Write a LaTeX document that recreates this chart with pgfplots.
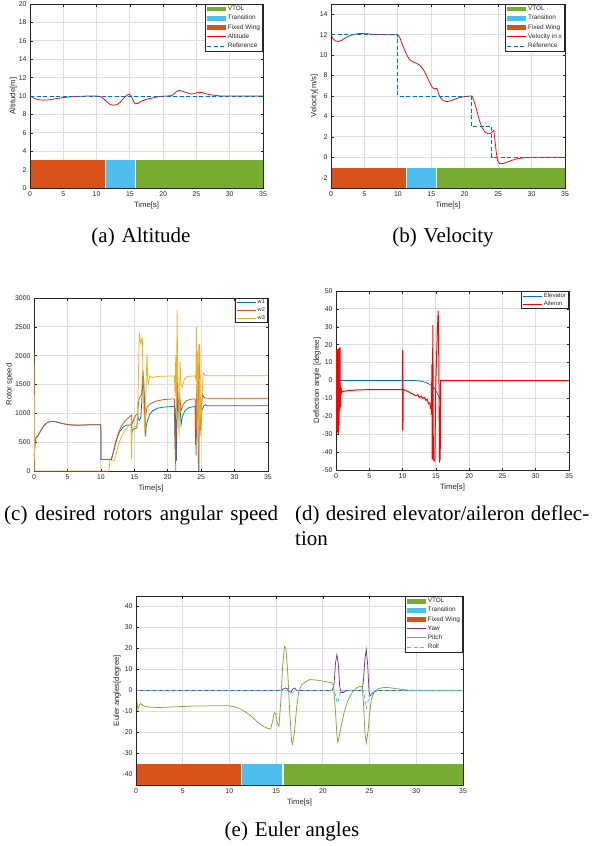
\documentclass[border=0pt]{standalone}
\usepackage{fontspec}
\setmainfont{Liberation Serif}
\newfontfamily\arial{Liberation Sans}
\usepackage{pgfplots}
\pgfplotsset{compat=1.18}

\definecolor{mblue}{HTML}{0072BD}
\definecolor{morange}{HTML}{D95319}
\definecolor{myellow}{HTML}{EDB120}
\definecolor{mpurple}{HTML}{7E2F8E}
\definecolor{mgreen}{HTML}{77AC30}
\definecolor{mcyan}{HTML}{4DBEEE}
\definecolor{axgray}{HTML}{262626}

\pgfplotsset{
  lineleg/.style={legend image code/.code={\draw[##1] (0pt,0pt) -- (19pt,0pt);}},
  barleg/.style={legend image code/.code={\fill[##1] (0pt,-2.4pt) rectangle (19pt,2.4pt);}},
  mat/.style={
    scale only axis, anchor=south west,
    xmin=0, xmax=35, xtick={0,5,...,35},
    grid=major, grid style={black!13, line width=0.9pt},
    axis line style={axgray, line width=0.6pt},
    tick style={axgray, line width=0.5pt}, major tick length=2.5pt,
    tick label style={font=\arial\fontsize{6.9}{8}\selectfont, text=axgray},
    label style={font=\arial\fontsize{7.7}{9}\selectfont, text=axgray},
    xlabel={Time[s]}, xlabel style={yshift=1.5pt},
    ylabel style={yshift=-5pt},
    /pgf/number format/assume math mode=true,
    /pgf/number format/1000 sep={},
    scaled ticks=false,
    legend cell align=left,
    legend style={at={(1,1)}, anchor=north east, draw=axgray, line width=0.6pt,
      fill=white, font=\arial\fontsize{6.4}{7.2}\selectfont, text=axgray,
      inner xsep=1.5pt, inner ysep=1pt, row sep=1.5pt,
      nodes={inner ysep=0.8pt, inner xsep=1.3pt}},
  },
  pline/.style={line width=0.75pt, lineleg},
}

\begin{document}
\begin{tikzpicture}
\path[use as bounding box] (0pt,0pt) rectangle (597pt,-846pt);

% (a) Altitude
\begin{axis}[mat, at={(30pt,-188pt)}, width=233pt, height=184pt,
  ymin=0, ymax=20, ytick={0,2,...,20}, ylabel={Altitude[m]}]
  \addplot[fill=mgreen, draw=none, barleg] coordinates {(15.85,0)(15.85,3)(35,3)(35,0)} -- cycle;
  \addlegendentry{VTOL}
  \addplot[fill=mcyan, draw=none, barleg] coordinates {(11.4,0)(11.4,3)(15.7,3)(15.7,0)} -- cycle;
  \addlegendentry{Transition}
  \addplot[fill=morange, draw=none, barleg] coordinates {(0,0)(0,3)(11.25,3)(11.25,0)} -- cycle;
  \addlegendentry{Fixed Wing}
  \addplot[pline, color=red, smooth, tension=0.4] coordinates {
    (0,10.0)(0.5,9.8)(1,9.65)(1.5,9.58)(2,9.55)(2.5,9.56)(3,9.6)(4,9.72)(5,9.83)(6,9.9)
    (7,9.95)(8,9.98)(9,10.0)(10,10.0)(10.5,9.95)(11,9.75)(11.5,9.4)(12,9.1)(12.5,9.0)
    (13,9.05)(13.5,9.3)(14,9.7)(14.5,10.05)(14.9,10.2)(15.2,10.0)(15.5,9.5)(15.8,9.15)
    (16.2,9.2)(16.8,9.45)(17.5,9.65)(18.5,9.8)(19.5,9.95)(20.5,10.0)(21.3,10.05)(21.6,10.2)
    (22,10.5)(22.4,10.6)(23,10.5)(23.6,10.35)(24.3,10.2)(24.8,10.3)(25.3,10.4)(25.8,10.38)
    (26.4,10.25)(27,10.15)(28,10.05)(29,10.0)(35,10.0)};
  \addlegendentry{Altitude}
  \addplot[pline, color=mblue, dash pattern=on 4pt off 2.5pt] coordinates {(0,10)(35,10)};
  \addlegendentry{Reference}
  \draw[axgray, line width=0.6pt] (rel axis cs:0,0) rectangle (rel axis cs:1,1);
\end{axis}

% (b) Velocity
\begin{axis}[mat, at={(331pt,-188pt)}, width=234pt, height=184pt,
  ymin=-3, ymax=15, ytick={-2,0,...,14}, ylabel={Velocity[m/s]}]
  \addplot[fill=mgreen, draw=none, barleg] coordinates {(15.85,-3)(15.85,-1)(35,-1)(35,-3)} -- cycle;
  \addlegendentry{VTOL}
  \addplot[fill=mcyan, draw=none, barleg] coordinates {(11.4,-3)(11.4,-1)(15.65,-1)(15.65,-3)} -- cycle;
  \addlegendentry{Transition}
  \addplot[fill=morange, draw=none, barleg] coordinates {(0,-3)(0,-1)(11.25,-1)(11.25,-3)} -- cycle;
  \addlegendentry{Fixed Wing}
  \addplot[pline, color=red] coordinates {
    (0,12)(0.3,11.6)(0.7,11.38)(1.1,11.33)(1.6,11.45)(2.3,11.75)(3,11.95)(3.8,12.08)
    (4.5,12.12)(5.5,12.08)(6.5,12.02)(8,12)(10,12)(10.3,11.7)(10.7,11.0)(11.2,10.2)
    (11.7,9.6)(12.2,9.35)(12.8,9.2)(13.3,9.0)(13.8,8.6)(14.3,8.0)(14.7,7.4)(15.1,6.9)
    (15.4,6.7)(15.7,6.75)(15.9,6.7)(16.1,6.2)(16.4,5.8)(16.8,5.55)(17.3,5.45)(18,5.55)
    (19,5.8)(20,5.95)(20.8,6.0)(21.1,6.0)(21.4,5.5)(21.8,4.6)(22.2,3.6)(22.6,2.9)(23,2.5)
    (23.5,2.3)(23.9,2.35)(24.2,2.55)(24.35,2.65)(24.5,1.8)(24.7,0.6)(24.9,-0.3)(25.2,-0.6)
    (25.6,-0.62)(26.2,-0.5)(27,-0.3)(28,-0.12)(29,-0.03)(30,0)(35,0)};
  \addlegendentry{Velocity in x}
  \addplot[pline, color=mblue, dash pattern=on 4pt off 2.5pt] coordinates {
    (0,12)(10,12)(10,6)(21,6)(21,3)(24.05,3)(24.05,0)(35,0)};
  \addlegendentry{Reference}
  \draw[axgray, line width=0.6pt] (rel axis cs:0,0) rectangle (rel axis cs:1,1);
\end{axis}

% (c) Rotor speed
\begin{axis}[mat, at={(34pt,-471pt)}, width=234pt, height=173pt,
  ymin=0, ymax=3000, ytick={0,500,...,3000}, ylabel={Rotor speed},
  legend style={font=\arial\fontsize{5.6}{6.4}\selectfont, row sep=0.6pt}]
  \addplot[pline, color=mblue] coordinates {
    (0,200)(0.15,450)(0.3,580)(0.6,610)(1,700)(1.5,790)(2,840)(2.5,860)(3,858)(3.5,845)
    (4,828)(5,805)(6,795)(7,795)(8,800)(10,800)(10.02,200)(11.6,200)(12,380)(12.4,560)
    (12.8,680)(13.3,760)(13.8,795)(14.4,800)(14.6,790)(14.62,650)(14.7,700)(15.0,730)
    (15.4,750)(15.5,1000)(15.6,900)(15.8,880)(16.0,950)(16.3,1600)(16.5,1300)(16.7,600)
    (16.8,800)(17.0,880)(17.3,980)(17.8,1050)(18.5,1090)(19.5,1110)(21,1120)(21.1,380)
    (21.2,1100)(21.3,180)(21.45,1400)(21.6,900)(21.8,1200)(22.0,800)(22.2,950)(22.6,1050)
    (23.2,1100)(24.1,1120)(24.15,450)(24.3,1200)(24.45,1500)(24.6,0)(24.75,900)(24.9,700)
    (25.1,1050)(25.4,1130)(25.6,1150)(25.9,1130)(35,1130)};
  \addlegendentry{w1}
  \addplot[pline, color=morange] coordinates {
    (0,250)(0.15,480)(0.3,590)(0.6,610)(1,700)(1.5,790)(2,840)(2.5,862)(3,860)(3.5,848)
    (4,830)(5,808)(6,797)(7,797)(8,800)(10,800)(10.02,200)(11.5,200)(11.8,300)(12.2,500)
    (12.6,650)(13,760)(13.5,850)(14,910)(14.5,960)(14.6,970)(14.62,800)(14.8,850)(15.0,920)
    (15.3,980)(15.5,1000)(15.7,1250)(15.9,1300)(16.1,1330)(16.3,1750)(16.45,1500)(16.6,700)
    (16.75,1000)(16.9,1100)(17.2,1150)(17.8,1190)(18.5,1220)(19.5,1240)(21,1250)(21.1,700)
    (21.2,0)(21.3,1200)(21.45,1600)(21.6,1100)(21.8,1300)(22.0,1050)(22.3,1150)(22.8,1220)
    (23.5,1245)(24.1,1250)(24.15,900)(24.25,270)(24.4,1500)(24.55,900)(24.7,2200)(24.85,700)
    (25.0,1000)(25.2,1330)(25.4,1280)(25.7,1265)(26,1260)(35,1260)};
  \addlegendentry{w2}
  \addplot[pline, color=myellow] coordinates {
    (0,2050)(0.05,1500)(0.1,0)(11.2,0)(11.35,180)(12.0,180)(12.3,300)(12.7,480)(13.2,620)
    (13.7,720)(14.2,790)(14.5,820)(14.6,200)(14.65,700)(14.8,760)(15.0,770)(15.4,780)
    (15.5,1000)(15.75,2400)(15.9,2250)(16.0,2200)(16.1,2300)(16.2,2300)(16.35,1300)(16.5,900)
    (16.6,600)(16.75,1400)(16.9,2050)(17.0,1600)(17.1,1500)(17.3,1650)(17.6,1620)(18.5,1640)
    (21,1650)(21.1,1300)(21.2,2000)(21.3,900)(21.4,2800)(21.55,1200)(21.7,600)(21.85,1900)
    (22.0,1500)(22.2,1450)(22.5,1600)(23,1640)(24.1,1650)(24.2,1600)(24.3,2500)(24.4,700)
    (24.5,2100)(24.6,900)(24.7,0)(24.8,2200)(24.95,600)(25.1,1200)(25.3,1700)(25.6,1660)
    (26,1650)(35,1650)};
  \addlegendentry{w3}
\end{axis}

% (d) Deflection
\begin{axis}[mat, at={(336pt,-470pt)}, width=233pt, height=179pt,
  ymin=-50, ymax=50, ytick={-50,-40,...,50}, ylabel={Deflection angle [degree]},
  legend style={font=\arial\fontsize{6}{6.8}\selectfont, row sep=0.6pt}]
  \addplot[pline, color=mblue] coordinates {
    (0,0)(11.5,0)(12,-0.1)(12.5,-0.3)(13,-0.6)(13.5,-1.1)(14,-2)(14.4,-3)(14.8,-4.5)
    (15.1,-6.3)(15.4,-8.5)(15.6,-10.5)(15.65,-11)(15.7,0)(35,0)};
  \addlegendentry{Elevator}
  \addplot[line width=1pt, lineleg, color=red] coordinates {
    (0,0)(0.05,-28)(0.1,17)(0.15,-27)(0.2,17)(0.25,-29)(0.3,17.5)(0.35,-30)(0.4,18)
    (0.45,-25)(0.5,18)(0.55,-17)(0.6,18.5)(0.65,-15)(0.7,-3)(0.75,-8)(0.8,-5)(0.9,-6.5)
    (1.2,-6)(2,-5.6)(3,-5.3)(5,-5.1)(8,-5.1)(9.95,-5.1)(10.0,17)(10.02,-28)(10.04,16)
    (10.06,-27)(10.08,-5)(10.5,-5.5)(11,-6.5)(11.5,-7.5)(12,-8.5)(12.3,-8)(12.5,-9.5)
    (12.8,-8.8)(13,-10)(13.3,-9.5)(13.5,-11)(13.7,-10.5)(13.9,-13)(14.1,-12.5)(14.2,-15)
    (14.3,-14)(14.35,-19)(14.4,9)(14.45,-44)(14.55,31)(14.62,-44)(14.75,-45)(14.85,-44)
    (15.0,0)(15.2,25)(15.35,39)(15.45,10)(15.55,-45)(15.65,-44)(15.72,0)(35,0)};
  \addlegendentry{Aileron}
\end{axis}

% (e) Euler angles
\begin{axis}[mat, at={(136pt,-785pt)}, width=327pt, height=189pt,
  ymin=-45, ymax=45, ytick={-40,-30,...,40}, ylabel={Euler angles[degree]}]
  \addplot[fill=mgreen, draw=none, barleg] coordinates {(15.8,-45)(15.8,-35)(35,-35)(35,-45)} -- cycle;
  \addlegendentry{VTOL}
  \addplot[fill=mcyan, draw=none, barleg] coordinates {(11.38,-45)(11.38,-35)(15.62,-35)(15.62,-45)} -- cycle;
  \addlegendentry{Transition}
  \addplot[fill=morange, draw=none, barleg] coordinates {(0,-45)(0,-35)(11.22,-35)(11.22,-45)} -- cycle;
  \addlegendentry{Fixed Wing}
  \addplot[pline, color=mpurple] coordinates {
    (0,0)(15.5,0)(15.8,0.8)(16.0,1.2)(16.2,0.8)(16.4,-0.5)(16.6,-0.8)(16.8,0.8)(17.0,1.2)
    (17.2,0)(17.4,0)(21.0,0)(21.2,3)(21.35,13)(21.5,17)(21.65,13)(21.8,2)(21.95,-1)
    (22.2,-1)(22.5,0)(24.2,0)(24.35,5)(24.5,15)(24.65,19.5)(24.8,12)(24.95,-1)(25.1,-2.5)
    (25.4,-1)(25.8,0)(35,0)};
  \addlegendentry{Yaw}
  \addplot[pline, color=mgreen] coordinates {
    (0,0)(0.1,-5)(0.2,-9)(0.35,-7)(0.5,-6.2)(0.7,-7)(1,-7.6)(1.5,-7.9)(2.5,-8.1)(4,-7.8)
    (6,-7.4)(8,-7.3)(10,-7.3)(10.6,-7.8)(11.2,-8.8)(11.8,-10.5)(12.4,-12.5)(13,-15)
    (13.6,-17)(14.1,-18)(14.4,-18.4)(14.6,-15)(14.8,-10.5)(14.95,-11)(15.15,-16)(15.3,-17)
    (15.5,-5)(15.7,12)(15.9,21)(16.05,20)(16.25,8)(16.45,-10)(16.65,-24)(16.75,-25.5)
    (16.95,-20)(17.2,-8)(17.4,-1)(17.7,2.5)(18.1,4)(18.6,5.2)(19.3,5)(20,4.5)(20.6,4)
    (21.0,3.6)(21.15,2)(21.35,-10)(21.5,-21)(21.6,-24.5)(21.75,-22)(22.0,-16)(22.3,-10)
    (22.7,-4.5)(23.2,-0.5)(23.7,1.5)(24.0,2)(24.2,1.8)(24.35,-6)(24.5,-20)(24.65,-25)
    (24.85,-19)(25.0,-11)(25.2,-4)(25.5,-0.5)(26,1)(26.6,1.5)(27.2,1.3)(28,0.8)(29,0.2)
    (30,0)(35,0)};
  \addlegendentry{Pitch}
  \addplot[pline, color=mcyan, dash pattern=on 4pt off 2.5pt] coordinates {
    (0,0)(16.2,0)(16.5,-1.5)(16.7,-1)(17,-0.5)(17.3,0)(21.2,0)(21.4,-3)(21.55,-6)(21.7,-4)
    (21.85,-1)(22.0,-1.5)(22.2,0)(24.35,0)(24.5,-4)(24.65,-8.5)(24.8,-6)(24.95,-2)(25.1,-3)
    (25.3,-1)(25.6,0)(35,0)};
  \addlegendentry{Roll}
  \draw[axgray, line width=0.6pt] (rel axis cs:0,0) rectangle (rel axis cs:1,1);
\end{axis}

% captions
\begin{scope}[every node/.style={inner sep=0pt, font=\fontsize{21}{25}\selectfont}]
  \node[anchor=base] at (141pt,-242pt) {(a)\hspace{0.33em}Altitude};
  \node[anchor=base] at (443pt,-242pt) {(b)\hspace{0.33em}Velocity};
  \node[anchor=base west] at (4pt,-520pt) {\makebox[274pt][s]{(c) desired rotors angular speed}};
  \node[anchor=base west] at (295pt,-520pt) {\makebox[294pt][s]{(d) desired elevator/aileron deflec-}};
  \node[anchor=base west] at (295pt,-545pt) {tion};
  \node[anchor=base] at (292pt,-836pt) {(e)\hspace{0.33em}Euler angles};
\end{scope}
\end{tikzpicture}
\end{document}
